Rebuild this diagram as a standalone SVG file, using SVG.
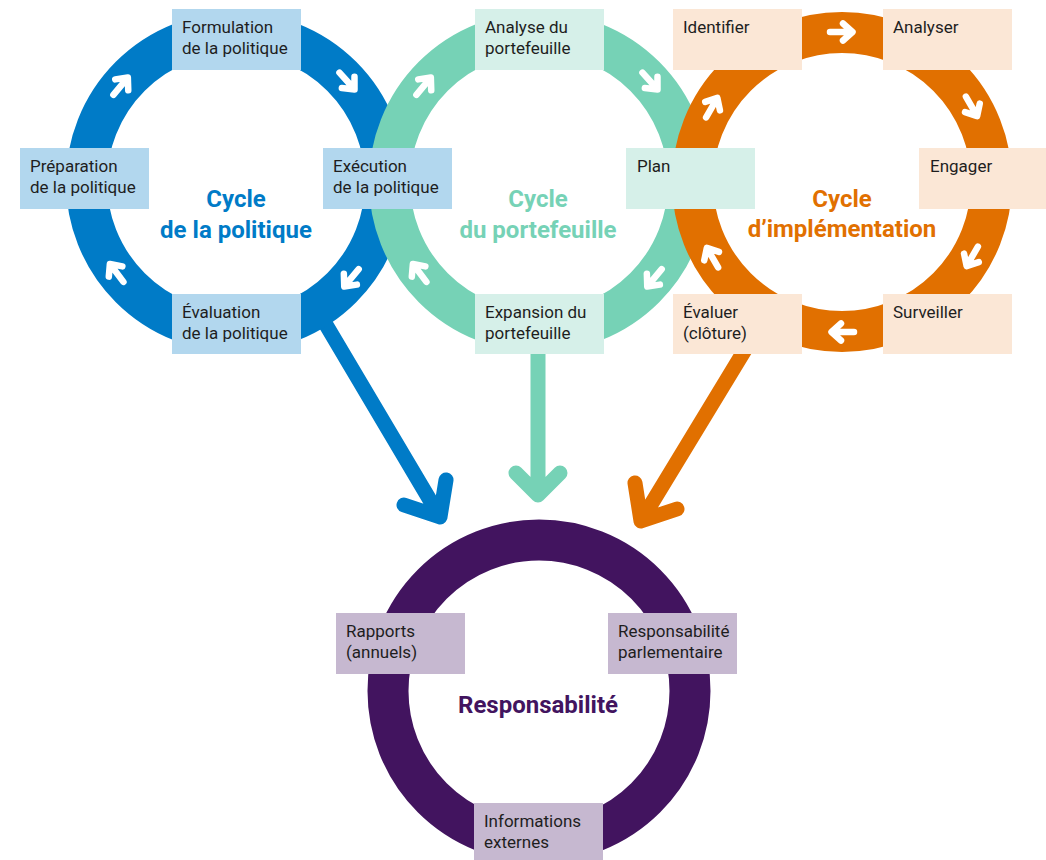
<svg xmlns="http://www.w3.org/2000/svg" width="1046" height="860" viewBox="0 0 1046 860">
<style>
.ring{fill:none;stroke-width:41}
.lbl{font-family:Roboto,"Noto Sans",sans-serif;font-size:17px;fill:#1e1e1e}
.ttl{font-family:Roboto,"Noto Sans",sans-serif;font-size:24px;font-weight:bold;text-anchor:middle}
.big{fill:none;stroke-width:15;stroke-linecap:round;stroke-linejoin:round}
.bb{fill:#B2D7EE}.gb{fill:#D6F0E9}.ob{fill:#FBE7D6}.pb{fill:#C6B8D0}
</style>
<defs>
<path id="ar" d="M-12,0 L10,0 M1,-8.5 L10.5,0 L1,8.5" fill="none" stroke="#fff" stroke-width="6.5" stroke-linecap="round" stroke-linejoin="round"/>
</defs>
<rect width="1046" height="860" fill="#fff"/>
<g id="connectors">
<path class="big" stroke="#007BC7" d="M322,318 L440,517 M404,505 L440,517 L446,480"/>
<path class="big" stroke="#76D2B6" stroke-width="16" d="M538,340 L538,495 M516,473 L538,495 L560,473"/>
<path class="big" stroke="#E17000" d="M757,330 L641,521 M635,483 L641,521 L677,509"/>
</g>
<g id="ring-politique">
<circle class="ring" cx="236" cy="182" r="149.5" stroke="#007BC7"/>
<use href="#ar" transform="translate(347.5,81.6) rotate(48)"/>
<use href="#ar" transform="translate(351,278.4) rotate(130)"/>
<use href="#ar" transform="translate(116.2,272.3) rotate(233)"/>
<use href="#ar" transform="translate(121.1,85.6) rotate(310)"/>
<text class="ttl" fill="#007BC7" x="236" y="207">Cycle</text>
<text class="ttl" fill="#007BC7" x="236" y="238">de la politique</text>
</g>
<g id="ring-portefeuille">
<circle class="ring" cx="539" cy="182" r="149.5" stroke="#76D2B6"/>
<use href="#ar" transform="translate(650.5,81.6) rotate(48)"/>
<use href="#ar" transform="translate(654,278.4) rotate(130)"/>
<use href="#ar" transform="translate(419.2,272.3) rotate(233)"/>
<use href="#ar" transform="translate(424.1,85.6) rotate(310)"/>
<text class="ttl" fill="#76D2B6" x="538" y="207">Cycle</text>
<text class="ttl" fill="#76D2B6" x="538" y="238">du portefeuille</text>
</g>
<g id="ring-implementation">
<circle class="ring" cx="842" cy="182" r="149.5" stroke="#E17000"/>
<use href="#ar" transform="translate(842,32)"/>
<use href="#ar" transform="translate(971.9,107) rotate(60)"/>
<use href="#ar" transform="translate(971.9,257) rotate(120)"/>
<use href="#ar" transform="translate(842,332) rotate(180)"/>
<use href="#ar" transform="translate(712.1,257) rotate(240)"/>
<use href="#ar" transform="translate(712.1,107) rotate(300)"/>
<text class="ttl" fill="#E17000" x="842" y="207">Cycle</text>
<text class="ttl" fill="#E17000" x="842" y="237">d’implémentation</text>
</g>
<g id="ring-responsabilite">
<circle class="ring" cx="539" cy="691" r="151" stroke="#42145F" stroke-width="40"/>
<text class="ttl" fill="#42145F" x="538" y="713">Responsabilité</text>
</g>
<g id="n-formulation"><rect class="bb" x="172" y="9" width="129" height="61"/><text class="lbl" x="182" y="33">Formulation</text><text class="lbl" x="182" y="54">de la politique</text></g>
<g id="n-preparation"><rect class="bb" x="20" y="148" width="129" height="61"/><text class="lbl" x="30" y="172">Préparation</text><text class="lbl" x="30" y="193">de la politique</text></g>
<g id="n-execution"><rect class="bb" x="323" y="148" width="129" height="61"/><text class="lbl" x="333" y="172">Exécution</text><text class="lbl" x="333" y="193">de la politique</text></g>
<g id="n-evaluation"><rect class="bb" x="172" y="294" width="129" height="60"/><text class="lbl" x="182" y="318">Évaluation</text><text class="lbl" x="182" y="339">de la politique</text></g>
<g id="n-analyse"><rect class="gb" x="475" y="9" width="129" height="61"/><text class="lbl" x="485" y="33">Analyse du</text><text class="lbl" x="485" y="54">portefeuille</text></g>
<g id="n-plan"><rect class="gb" x="626" y="148" width="129" height="61"/><text class="lbl" x="637" y="172">Plan</text></g>
<g id="n-expansion"><rect class="gb" x="475" y="294" width="129" height="60"/><text class="lbl" x="485" y="318">Expansion du</text><text class="lbl" x="485" y="339">portefeuille</text></g>
<g id="n-identifier"><rect class="ob" x="673" y="9" width="129" height="61"/><text class="lbl" x="683" y="33">Identifier</text></g>
<g id="n-analyser"><rect class="ob" x="883" y="9" width="129" height="61"/><text class="lbl" x="893" y="33">Analyser</text></g>
<g id="n-engager"><rect class="ob" x="919" y="148" width="127" height="61"/><text class="lbl" x="930" y="172">Engager</text></g>
<g id="n-surveiller"><rect class="ob" x="883" y="294" width="129" height="60"/><text class="lbl" x="893" y="318">Surveiller</text></g>
<g id="n-evaluer"><rect class="ob" x="673" y="294" width="129" height="60"/><text class="lbl" x="683" y="318">Évaluer</text><text class="lbl" x="683" y="339">(clôture)</text></g>
<g id="n-rapports"><rect class="pb" x="336" y="613" width="129" height="61"/><text class="lbl" x="346" y="637">Rapports</text><text class="lbl" x="346" y="658">(annuels)</text></g>
<g id="n-parlementaire"><rect class="pb" x="608" y="613" width="129" height="61"/><text class="lbl" x="618" y="637">Responsabilité</text><text class="lbl" x="618" y="658">parlementaire</text></g>
<g id="n-informations"><rect class="pb" x="474" y="803" width="129" height="57"/><text class="lbl" x="484" y="827">Informations</text><text class="lbl" x="484" y="848">externes</text></g>
</svg>
